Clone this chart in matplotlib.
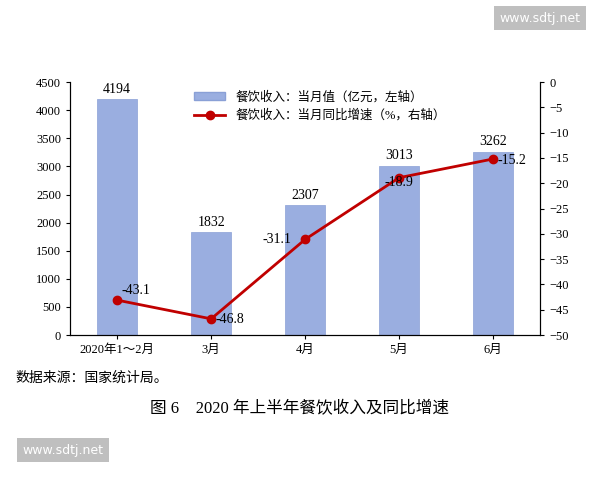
import matplotlib
matplotlib.use("Agg")
import matplotlib.pyplot as plt
from matplotlib.lines import Line2D
from matplotlib.patches import Patch

plt.rcParams['font.family'] = ['Liberation Serif', 'Noto Sans CJK SC']

categories = ["2020年1～2月", "3月", "4月", "5月", "6月"]
revenue = [4194, 1832, 2307, 3013, 3262]
growth = [-43.1, -46.8, -31.1, -18.9, -15.2]

fig = plt.figure(figsize=(6, 4.8), dpi=100)
ax = fig.add_axes([0.117, 0.302, 0.783, 0.527])
x = range(len(categories))
ax.bar(x, revenue, width=0.42, color='#9aaee0', edgecolor='#8aa0d6', linewidth=0.5)
for i, v in enumerate(revenue):
    ax.text(i, v + 60, str(v), ha='center', va='bottom', fontsize=10)
ax.set_ylim(0, 4500)
ax.set_yticks(range(0, 4501, 500))
ax.set_xlim(-0.5, 4.5)
ax.set_xticks(list(x))
ax.set_xticklabels(categories, fontsize=9)
ax.tick_params(labelsize=9, length=3)
ax.spines['top'].set_visible(False)

ax2 = ax.twinx()
ax2.plot(list(x), growth, color='#c00000', lw=2, marker='o', ms=6)
offs = [(0.05, 1.2), (0.05, -0.8), (-0.45, -0.8), (-0.15, -1.6), (0.05, -0.9)]
for i, v in enumerate(growth):
    ax2.text(i + offs[i][0], v + offs[i][1], f"{v}", fontsize=10)
ax2.set_ylim(-50, 0)
ax2.set_yticks(range(-50, 1, 5))
ax2.tick_params(labelsize=9, length=3)
ax2.spines['top'].set_visible(False)

handles = [Patch(facecolor='#9aaee0', edgecolor='#8aa0d6'),
           Line2D([0], [0], color='#c00000', lw=2, marker='o', ms=6)]
ax2.legend(handles, ["餐饮收入：当月值（亿元，左轴）", "餐饮收入：当月同比增速（%，右轴）"],
           loc='upper left', bbox_to_anchor=(0.24, 1.01), frameon=False, fontsize=9,
           handlelength=2.5)

fig.text(0.025, 0.205, "数据来源：国家统计局。", fontsize=10)
fig.text(0.5, 0.14, "图 6　2020 年上半年餐饮收入及同比增速", fontsize=12, ha='center')
fig.text(0.9, 0.955, "www.sdtj.net", fontsize=9, ha='center', color='white',
         family='DejaVu Sans', bbox=dict(facecolor='#bfbfbf', edgecolor='none', pad=4))
fig.text(0.105, 0.055, "www.sdtj.net", fontsize=9, ha='center', color='white',
         family='DejaVu Sans', bbox=dict(facecolor='#bfbfbf', edgecolor='none', pad=4))
fig.savefig("out.png", dpi=100)
